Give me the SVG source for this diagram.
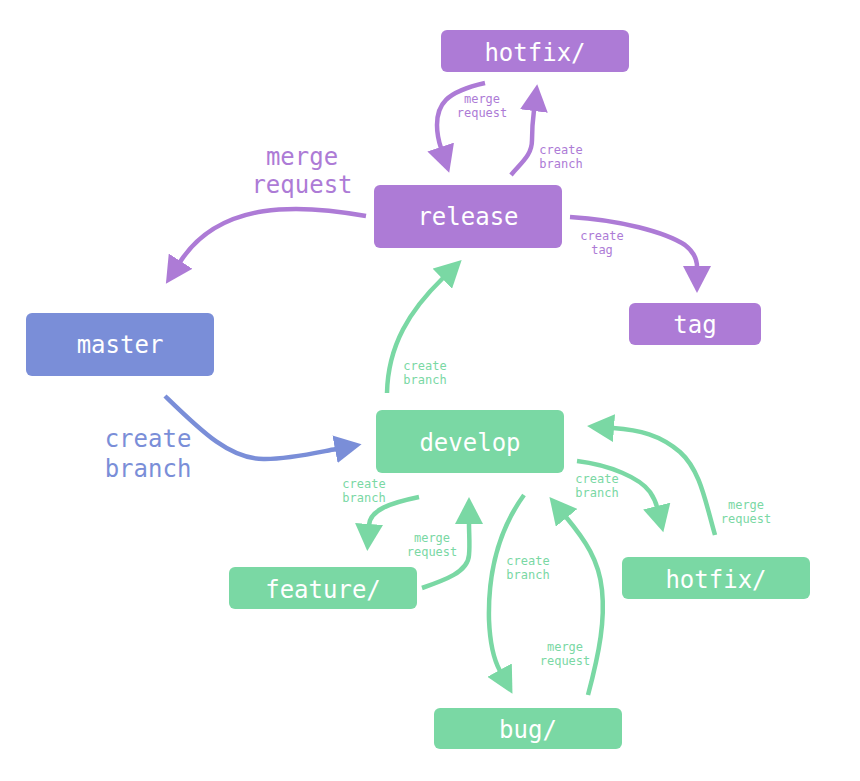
<svg xmlns="http://www.w3.org/2000/svg" width="860" height="781" viewBox="0 0 860 781">
<defs>
<style>
.node text{font-family:"DejaVu Sans Mono","Liberation Mono",monospace;font-size:24px;fill:#ffffff;text-anchor:middle}
.p rect{fill:#AD7BD6}
.b rect{fill:#7A8ED8}
.g rect{fill:#7AD8A4}
.edge{fill:none;stroke-width:4.5;stroke-linecap:butt}
.ep{stroke:#AD7BD6}
.eb{stroke:#7A8ED8}
.eg{stroke:#7AD8A4}
.lbl{font-family:"DejaVu Sans Mono","Liberation Mono",monospace;text-anchor:middle}
.sm{font-size:12px}
.lg{font-size:24px}
.tp{fill:#AD7BD6}
.tb{fill:#7A8ED8}
.tg{fill:#7AD8A4}
</style>
<marker id="ap" viewBox="0 0 28 28" markerWidth="28" markerHeight="28" markerUnits="userSpaceOnUse" refX="1" refY="14" orient="auto"><path d="M0,0 L27,14 L0,28 z" fill="#AD7BD6"/></marker>
<marker id="ab" viewBox="0 0 28 28" markerWidth="28" markerHeight="28" markerUnits="userSpaceOnUse" refX="1" refY="14" orient="auto"><path d="M0,0 L27,14 L0,28 z" fill="#7A8ED8"/></marker>
<marker id="ag" viewBox="0 0 28 28" markerWidth="28" markerHeight="28" markerUnits="userSpaceOnUse" refX="1" refY="14" orient="auto"><path d="M0,0 L27,14 L0,28 z" fill="#7AD8A4"/></marker>
</defs>
<rect width="860" height="781" fill="#ffffff"/>

<g id="connectors">
<path class="edge ep" marker-end="url(#ap)" d="M366,216 C300,204 220,200 180,262"/>
<path class="edge ep" marker-end="url(#ap)" d="M485,83 C445,92 437,105 437,125 C437,135 439,142 441,148"/>
<path class="edge ep" marker-end="url(#ap)" d="M511,175 C522,162 532,155 532,140 C532,128 533,118 534,110"/>
<path class="edge ep" marker-end="url(#ap)" d="M570,217 C620,220 665,232 685,245 C694,252 697,260 697,267"/>
<path class="edge eb" marker-end="url(#ab)" d="M165,396 C200,430 230,460 265,459 C290,459 315,453 336,449"/>
<path class="edge eg" marker-end="url(#ag)" d="M387,393 C388,345 410,310 443,278"/>
<path class="edge eg" marker-end="url(#ag)" d="M419,497 C390,503 370,510 369,525"/>
<path class="edge eg" marker-end="url(#ag)" d="M422,588 C445,580 468,572 469,555 C470,545 469,535 469,523"/>
<path class="edge eg" marker-end="url(#ag)" d="M524,495 C495,535 488,580 489,620 C490,645 494,660 500,671"/>
<path class="edge eg" marker-end="url(#ag)" d="M588,695 C600,650 605,620 602,590 C599,560 585,540 566,517"/>
<path class="edge eg" marker-end="url(#ag)" d="M577,461 C610,465 640,478 650,492 C654,498 656,503 657,507"/>
<path class="edge eg" marker-end="url(#ag)" d="M715,535 C705,500 700,470 680,452 C660,435 640,430 613,428"/>

<text class="lbl lg tp" x="302" y="165">merge</text>
<text class="lbl lg tp" x="302" y="193">request</text>
<text class="lbl sm tp" x="482" y="103">merge</text>
<text class="lbl sm tp" x="482" y="117">request</text>
<text class="lbl sm tp" x="561" y="154">create</text>
<text class="lbl sm tp" x="561" y="168">branch</text>
<text class="lbl sm tp" x="602" y="240">create</text>
<text class="lbl sm tp" x="602" y="254">tag</text>
<text class="lbl lg tb" x="148" y="447">create</text>
<text class="lbl lg tb" x="148" y="477">branch</text>
<text class="lbl sm tg" x="425" y="370">create</text>
<text class="lbl sm tg" x="425" y="384">branch</text>
<text class="lbl sm tg" x="364" y="488">create</text>
<text class="lbl sm tg" x="364" y="502">branch</text>
<text class="lbl sm tg" x="432" y="542">merge</text>
<text class="lbl sm tg" x="432" y="556">request</text>
<text class="lbl sm tg" x="528" y="565">create</text>
<text class="lbl sm tg" x="528" y="579">branch</text>
<text class="lbl sm tg" x="565" y="651">merge</text>
<text class="lbl sm tg" x="565" y="665">request</text>
<text class="lbl sm tg" x="597" y="483">create</text>
<text class="lbl sm tg" x="597" y="497">branch</text>
<text class="lbl sm tg" x="746" y="509">merge</text>
<text class="lbl sm tg" x="746" y="523">request</text>
</g>

<g id="hotfix-release" class="node p"><rect x="441" y="30" width="188" height="42" rx="6"/><text x="535" y="61">hotfix/</text></g>
<g id="release" class="node p"><rect x="374" y="185" width="188" height="63" rx="6"/><text x="468" y="225">release</text></g>
<g id="tag" class="node p"><rect x="629" y="303" width="132" height="42" rx="6"/><text x="695" y="333">tag</text></g>
<g id="master" class="node b"><rect x="26" y="313" width="188" height="63" rx="6"/><text x="120" y="353">master</text></g>
<g id="develop" class="node g"><rect x="376" y="410" width="188" height="63" rx="6"/><text x="470" y="451">develop</text></g>
<g id="feature" class="node g"><rect x="229" y="567" width="188" height="42" rx="6"/><text x="323" y="598">feature/</text></g>
<g id="hotfix-develop" class="node g"><rect x="622" y="557" width="188" height="42" rx="6"/><text x="716" y="588">hotfix/</text></g>
<g id="bug" class="node g"><rect x="434" y="708" width="188" height="41" rx="6"/><text x="528" y="738">bug/</text></g>
</svg>
